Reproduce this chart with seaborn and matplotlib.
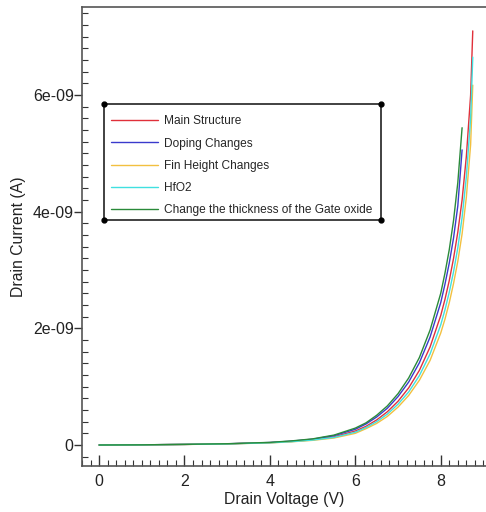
import numpy as np
import pandas as pd
import matplotlib
matplotlib.use("Agg")
import matplotlib.pyplot as plt
import seaborn as sns
from matplotlib.ticker import MultipleLocator
from matplotlib.patches import Rectangle

sns.set_theme(style="white")
plt.rcParams['font.family'] = ['Liberation Sans', 'DejaVu Sans']

series_names = ["Main Structure", "Doping Changes", "Fin Height Changes", "HfO2",
                "Change the thickness of the Gate oxide"]
colors = ["#e0303a", "#3a3acc", "#f2c040", "#40e0e0", "#2a8a3a"]

v_long = [0, 1, 2, 3, 4, 4.5, 5, 5.5, 6, 6.25, 6.5, 6.75, 7, 7.25, 7.5, 7.75, 8,
          8.1, 8.2, 8.3, 8.4, 8.5, 8.6, 8.7, 8.75]
v_short = [0, 1, 2, 3, 4, 4.5, 5, 5.5, 6, 6.25, 6.5, 6.75, 7, 7.25, 7.5, 7.75, 8,
           8.1, 8.2, 8.3, 8.4, 8.5]

# currents in units of 1e-9 A
i_main = [0, 0.003, 0.01, 0.02, 0.04, 0.06, 0.09, 0.14, 0.24, 0.32, 0.43, 0.57, 0.75,
          0.98, 1.28, 1.68, 2.22, 2.5, 2.82, 3.2, 3.65, 4.2, 4.95, 6.0, 7.1]
i_doping = [0, 0.003, 0.01, 0.021, 0.043, 0.066, 0.1, 0.16, 0.27, 0.36, 0.48, 0.63, 0.83,
            1.08, 1.41, 1.85, 2.44, 2.76, 3.12, 3.55, 4.1, 5.06]
i_fin = [0, 0.003, 0.009, 0.019, 0.037, 0.055, 0.08, 0.12, 0.20, 0.28, 0.37, 0.49, 0.65,
         0.85, 1.11, 1.45, 1.92, 2.16, 2.44, 2.77, 3.15, 3.62, 4.25, 5.15, 6.17]
i_hfo2 = [0, 0.003, 0.01, 0.019, 0.038, 0.057, 0.085, 0.13, 0.22, 0.30, 0.40, 0.53, 0.70,
          0.91, 1.19, 1.56, 2.06, 2.32, 2.62, 2.97, 3.38, 3.9, 4.6, 5.6, 6.65]
i_gate = [0, 0.003, 0.011, 0.022, 0.045, 0.07, 0.105, 0.17, 0.29, 0.38, 0.51, 0.67, 0.88,
          1.15, 1.5, 1.97, 2.6, 2.95, 3.35, 3.85, 4.5, 5.44]

rows = []
for name, vs, cur in [(series_names[0], v_long, i_main), (series_names[1], v_short, i_doping),
                      (series_names[2], v_long, i_fin), (series_names[3], v_long, i_hfo2),
                      (series_names[4], v_short, i_gate)]:
    for v, c in zip(vs, cur):
        rows.append({"Drain Voltage (V)": v, "Drain Current (A)": c * 1e-9, "series": name})
df = pd.DataFrame(rows)

fig = plt.figure(figsize=(4.86, 5.12), dpi=100)
ax = fig.add_axes([82/486, 46/512, 404/486, 459/512])
sns.lineplot(data=df, x="Drain Voltage (V)", y="Drain Current (A)", hue="series",
             hue_order=series_names, palette=colors, linewidth=1, ax=ax, sort=False)

ax.set_xlim(-0.4, 9.06)
ax.set_ylim(-0.36e-9, 7.51e-9)
ax.set_xticks([0, 2, 4, 6, 8])
ax.set_yticks([0, 2e-9, 4e-9, 6e-9])
ax.set_yticklabels(["0", "2e-09", "4e-09", "6e-09"])
ax.xaxis.set_minor_locator(MultipleLocator(0.2))
ax.yaxis.set_minor_locator(MultipleLocator(0.2e-9))
ax.tick_params(axis='x', which='major', direction='in', length=8, width=1, color='#333333',
               labelsize=11.5, pad=6, bottom=True, labelcolor='#222222')
ax.tick_params(axis='x', which='minor', direction='in', length=4, width=0.8, color='#333333', bottom=True)
ax.tick_params(axis='y', which='major', direction='out', length=6, width=1, color='#333333',
               labelsize=11.5, pad=0, left=True, labelcolor='#222222')
ax.tick_params(axis='y', which='minor', direction='in', length=4, width=0.8, color='#333333', left=True)
ax.set_xlabel("Drain Voltage (V)", fontsize=11.3, color='#222222', labelpad=2)
ax.set_ylabel("Drain Current (A)", fontsize=11.3, color='#222222', labelpad=5)
for side in ["left", "bottom", "top"]:
    ax.spines[side].set_color('#555555')
    ax.spines[side].set_linewidth(1.2)
ax.spines["right"].set_visible(False)

# legend box frame
x0, y0, x1, y1 = 0.054, 0.536, 0.74, 0.789
ax.add_patch(Rectangle((x0, y0), x1 - x0, y1 - y0, transform=ax.transAxes, fill=True,
                       facecolor='white', edgecolor='#333333', linewidth=1.3, zorder=4,
                       clip_on=False))
handles, labels = ax.get_legend_handles_labels()
leg = ax.legend(handles, labels, loc='upper left',
                bbox_to_anchor=(x0, y0, x1 - x0, 0.780 - y0), mode='expand',
                fontsize=8.6, frameon=False, handlelength=3.9,
                handletextpad=0.5, labelspacing=0.86, borderaxespad=0, borderpad=0.62)
leg.set_zorder(5)
for h in leg.get_lines():
    h.set_linewidth(1)
for (cx, cy) in [(x0, y0), (x0, y1), (x1, y0), (x1, y1)]:
    ax.plot([cx], [cy], 'o', color='black', markersize=3.5, transform=ax.transAxes,
            clip_on=False, zorder=6)

fig.savefig("out.png", dpi=100)
